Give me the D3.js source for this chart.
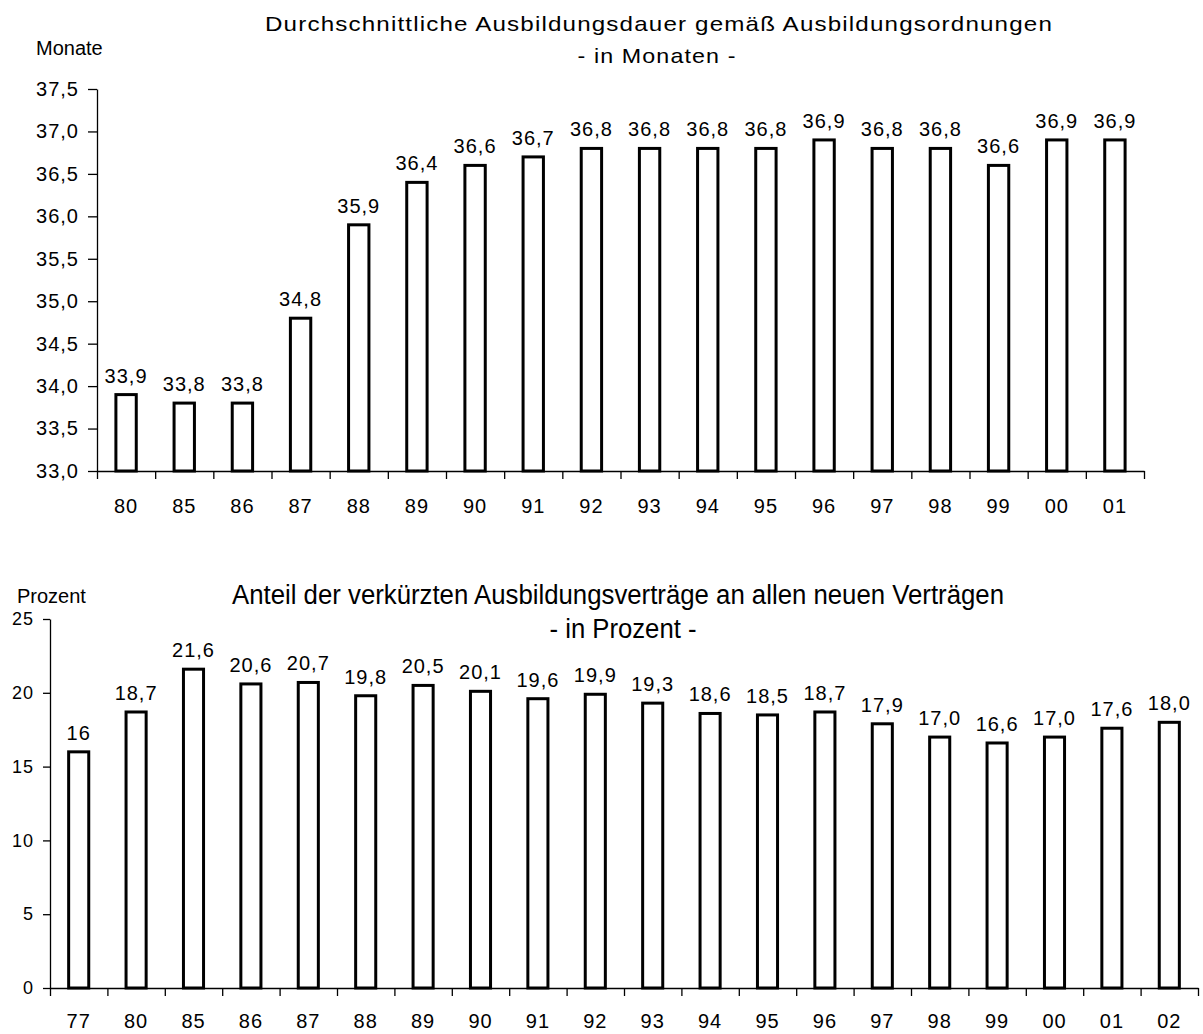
<!DOCTYPE html>
<html>
<head>
<meta charset="utf-8">
<script src="https://cdn.jsdelivr.net/npm/d3@7"></script>
<style>
  body { margin: 0; background: #fff; }
  text { font-family: "Liberation Sans", Arial, sans-serif; fill: #000; }
</style>
</head>
<body>
<div id="viz"></div>
<script>
var width = 1203, height = 1034;

// top chart: average training duration
var years1 = ["80","85","86","87","88","89","90","91","92","93","94","95","96","97","98","99","00","01"];
var months = [33.9,33.8,33.8,34.8,35.9,36.4,36.6,36.7,36.8,36.8,36.8,36.8,36.9,36.8,36.8,36.6,36.9,36.9];
var ticks1 = [33.0,33.5,34.0,34.5,35.0,35.5,36.0,36.5,37.0,37.5];

// bottom chart: share of shortened contracts
var years2 = ["77","80","85","86","87","88","89","90","91","92","93","94","95","96","97","98","99","00","01","02"];
var percent = [16,18.7,21.6,20.6,20.7,19.8,20.5,20.1,19.6,19.9,19.3,18.6,18.5,18.7,17.9,17.0,16.6,17.0,17.6,18.0];
var percentLabels = ["16","18,7","21,6","20,6","20,7","19,8","20,5","20,1","19,6","19,9","19,3","18,6","18,5","18,7","17,9","17,0","16,6","17,0","17,6","18,0"];
var ticks2 = [0,5,10,15,20,25];

var comma = function(v) { return d3.format(".1f")(v).replace(".", ","); };

var svg = d3.select('#viz').append('svg')
  .attr('width', width)
  .attr('height', height);

function drawChart(o) {
  var g = svg.append('g');
  var n = o.cats.length;

  var x = d3.scaleBand().domain(o.cats).range([o.left, o.right]);
  var xEdge = d3.scaleLinear().domain([0, n]).range([o.left, o.right]);
  var y = d3.scaleLinear().domain(o.domain).range([o.bottom, o.top]);
  var bw = x.bandwidth() * 0.35;

  // y axis
  g.append('g')
    .attr('transform', 'translate(' + o.left + ',0)')
    .call(d3.axisLeft(y).tickValues(o.ticks).tickFormat(o.tickFmt).tickSize(o.ytick).tickPadding(9).tickSizeOuter(0))
    .call(function(a) {
      a.selectAll('text').style('font-size', o.yfont).style('letter-spacing', '1px');
      a.selectAll('line,path').attr('stroke', '#000').attr('stroke-width', 1.3);
    });

  // bars
  g.selectAll('rect.bar').data(o.values).join('rect')
    .attr('class', 'bar')
    .attr('x', function(d, i) { return x(o.cats[i]) + (x.bandwidth() - bw) / 2; })
    .attr('y', function(d) { return y(d); })
    .attr('width', bw)
    .attr('height', function(d) { return o.bottom - y(d); })
    .attr('fill', '#fff')
    .attr('stroke', '#000')
    .attr('stroke-width', 3);

  // x axis: ticks at category boundaries
  g.append('g')
    .attr('transform', 'translate(0,' + o.bottom + ')')
    .call(d3.axisBottom(xEdge).tickValues(d3.range(n + 1)).tickFormat('').tickSize(8).tickSizeOuter(0))
    .call(function(a) {
      a.selectAll('line,path').attr('stroke', '#000').attr('stroke-width', 1.3);
    });

  // x category labels
  g.append('g')
    .attr('transform', 'translate(0,' + o.bottom + ')')
    .call(d3.axisBottom(x).tickSize(0).tickPadding(o.xpad))
    .call(function(a) {
      a.select('.domain').remove();
      a.selectAll('text').style('font-size', '20px').style('letter-spacing', '1px');
    });

  // value labels
  g.selectAll('text.val').data(o.values).join('text')
    .attr('class', 'val')
    .attr('x', function(d, i) { return x(o.cats[i]) + x.bandwidth() / 2; })
    .attr('y', function(d) { return y(d) - 12; })
    .attr('text-anchor', 'middle')
    .style('font-size', '20px')
    .style('letter-spacing', '1px')
    .text(function(d, i) { return o.labels[i]; });
}

drawChart({
  cats: years1, values: months, labels: months.map(comma),
  domain: [33, 37.5], ticks: ticks1, tickFmt: comma,
  left: 97, right: 1144, top: 89, bottom: 471, ytick: 9, xpad: 28, yfont: '20px'
});

drawChart({
  cats: years2, values: percent, labels: percentLabels,
  domain: [0, 25], ticks: ticks2, tickFmt: d3.format('d'),
  left: 50, right: 1198, top: 619, bottom: 988, ytick: 7, xpad: 26, yfont: '18px'
});

// titles
svg.append('text').attr('x', 36).attr('y', 55).style('font-size', '20px').text('Monate');
svg.append('text').attr('x', 659).attr('y', 31).attr('text-anchor', 'middle')
  .attr('textLength', 788).attr('lengthAdjust', 'spacingAndGlyphs')
  .style('font-size', '21px').style('letter-spacing', '1px')
  .text('Durchschnittliche Ausbildungsdauer gemäß Ausbildungsordnungen');
svg.append('text').attr('x', 657).attr('y', 63).attr('text-anchor', 'middle')
  .attr('textLength', 159).attr('lengthAdjust', 'spacingAndGlyphs')
  .style('font-size', '21px').style('letter-spacing', '1px')
  .text('- in Monaten -');

svg.append('text').attr('x', 17).attr('y', 603).style('font-size', '20px').text('Prozent');
svg.append('text').attr('x', 618).attr('y', 604).attr('text-anchor', 'middle')
  .attr('textLength', 772).attr('lengthAdjust', 'spacingAndGlyphs')
  .style('font-family', '"Liberation Sans Narrow", "Liberation Sans", Arial, sans-serif')
  .style('font-size', '27px').text('Anteil der verkürzten Ausbildungsverträge an allen neuen Verträgen');
svg.append('text').attr('x', 623).attr('y', 638).attr('text-anchor', 'middle')
  .attr('textLength', 147).attr('lengthAdjust', 'spacingAndGlyphs')
  .style('font-family', '"Liberation Sans Narrow", "Liberation Sans", Arial, sans-serif')
  .style('font-size', '27px').text('- in Prozent -');
</script>
</body>
</html>
